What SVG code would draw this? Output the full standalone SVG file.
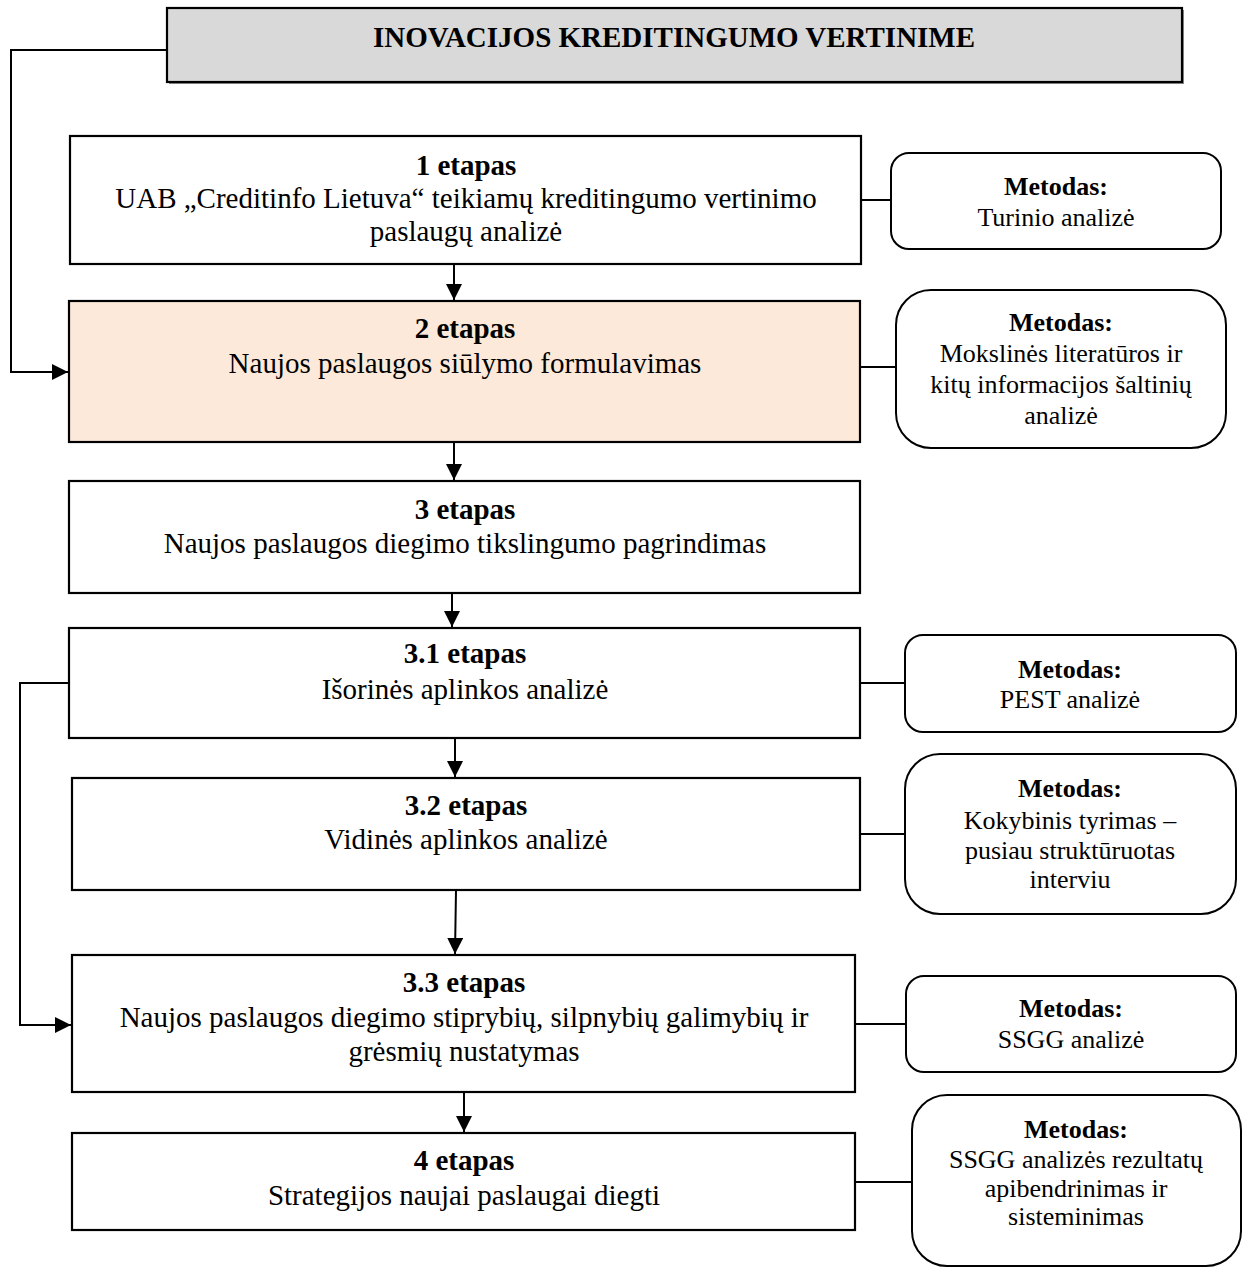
<svg xmlns="http://www.w3.org/2000/svg" width="1243" height="1267" viewBox="0 0 1243 1267">
<defs>
<marker id="arr" markerUnits="userSpaceOnUse" markerWidth="17" markerHeight="16" refX="16" refY="8" orient="auto">
<path d="M0,0 L16,8 L0,16 Z" fill="#000"/>
</marker>
<style>
.box{fill:#fff;stroke:#000;stroke-width:2.2}
.peach{fill:#fde9d9}
.meth{fill:#fff;stroke:#000;stroke-width:2}
.ln{fill:none;stroke:#000;stroke-width:2}
.t{font-family:"Liberation Serif","Times New Roman",serif;font-size:29px;text-anchor:middle;fill:#000}
.m{font-family:"Liberation Serif","Times New Roman",serif;font-size:26px;text-anchor:middle;fill:#000}
.b{font-weight:bold}
</style>
</defs>
<rect width="1243" height="1267" fill="#fff"/>

<g id="title">
<rect x="169" y="10" width="1015" height="74" fill="#8c8c8c"/>
<rect x="167" y="8" width="1015" height="74" fill="#d9d9d9" stroke="#000" stroke-width="2.2"/>
<text class="t b" x="674" y="47">INOVACIJOS KREDITINGUMO VERTINIME</text>
</g>

<g id="connectors">
<polyline class="ln" points="166,50 11,50 11,372 68,372" marker-end="url(#arr)"/>
<polyline class="ln" points="69,683 20,683 20,1025 71,1025" marker-end="url(#arr)"/>
<line class="ln" x1="454" y1="264" x2="454" y2="300" marker-end="url(#arr)"/>
<line class="ln" x1="454" y1="442" x2="454" y2="480" marker-end="url(#arr)"/>
<line class="ln" x1="452" y1="593" x2="452" y2="627" marker-end="url(#arr)"/>
<line class="ln" x1="455" y1="738" x2="455" y2="777" marker-end="url(#arr)"/>
<line class="ln" x1="456" y1="890" x2="455" y2="954" marker-end="url(#arr)"/>
<line class="ln" x1="464" y1="1092" x2="464" y2="1132" marker-end="url(#arr)"/>
<line class="ln" x1="861" y1="200" x2="891" y2="200"/>
<line class="ln" x1="860" y1="367" x2="896" y2="367"/>
<line class="ln" x1="860" y1="683" x2="905" y2="683"/>
<line class="ln" x1="860" y1="834" x2="905" y2="834"/>
<line class="ln" x1="855" y1="1024" x2="906" y2="1024"/>
<line class="ln" x1="855" y1="1182" x2="912" y2="1182"/>
</g>

<g id="stage1">
<rect class="box" x="70" y="136" width="791" height="128"/>
<text class="t b" x="466" y="175">1 etapas</text>
<text class="t" x="466" y="208">UAB „Creditinfo Lietuva“ teikiamų kreditingumo vertinimo</text>
<text class="t" x="466" y="241">paslaugų analizė</text>
</g>
<g id="method1">
<rect class="meth" x="891" y="153" width="330" height="96" rx="18"/>
<text class="m b" x="1056" y="195">Metodas:</text>
<text class="m" x="1056" y="226">Turinio analizė</text>
</g>

<g id="stage2">
<rect class="box peach" x="69" y="301" width="791" height="141"/>
<text class="t b" x="465" y="338">2 etapas</text>
<text class="t" x="465" y="373">Naujos paslaugos siūlymo formulavimas</text>
</g>
<g id="method2">
<rect class="meth" x="896" y="290" width="330" height="158" rx="35"/>
<text class="m b" x="1061" y="331">Metodas:</text>
<text class="m" x="1061" y="362">Mokslinės literatūros ir</text>
<text class="m" x="1061" y="393">kitų informacijos šaltinių</text>
<text class="m" x="1061" y="424">analizė</text>
</g>

<g id="stage3">
<rect class="box" x="69" y="481" width="791" height="112"/>
<text class="t b" x="465" y="519">3 etapas</text>
<text class="t" x="465" y="553">Naujos paslaugos diegimo tikslingumo pagrindimas</text>
</g>

<g id="stage3_1">
<rect class="box" x="69" y="628" width="791" height="110"/>
<text class="t b" x="465" y="663">3.1 etapas</text>
<text class="t" x="465" y="699">Išorinės aplinkos analizė</text>
</g>
<g id="method3_1">
<rect class="meth" x="905" y="635" width="331" height="97" rx="18"/>
<text class="m b" x="1070" y="678">Metodas:</text>
<text class="m" x="1070" y="708">PEST analizė</text>
</g>

<g id="stage3_2">
<rect class="box" x="72" y="778" width="788" height="112"/>
<text class="t b" x="466" y="815">3.2 etapas</text>
<text class="t" x="466" y="849">Vidinės aplinkos analizė</text>
</g>
<g id="method3_2">
<rect class="meth" x="905" y="754" width="331" height="160" rx="35"/>
<text class="m b" x="1070" y="797">Metodas:</text>
<text class="m" x="1070" y="829">Kokybinis tyrimas –</text>
<text class="m" x="1070" y="859">pusiau struktūruotas</text>
<text class="m" x="1070" y="888">interviu</text>
</g>

<g id="stage3_3">
<rect class="box" x="72" y="955" width="783" height="137"/>
<text class="t b" x="464" y="992">3.3 etapas</text>
<text class="t" x="464" y="1027">Naujos paslaugos diegimo stiprybių, silpnybių galimybių ir</text>
<text class="t" x="464" y="1061">grėsmių nustatymas</text>
</g>
<g id="method3_3">
<rect class="meth" x="906" y="976" width="330" height="96" rx="18"/>
<text class="m b" x="1071" y="1017">Metodas:</text>
<text class="m" x="1071" y="1048">SSGG analizė</text>
</g>

<g id="stage4">
<rect class="box" x="72" y="1133" width="783" height="97"/>
<text class="t b" x="464" y="1170">4 etapas</text>
<text class="t" x="464" y="1205">Strategijos naujai paslaugai diegti</text>
</g>
<g id="method4">
<rect class="meth" x="912" y="1095" width="329" height="171" rx="35"/>
<text class="m b" x="1076" y="1138">Metodas:</text>
<text class="m" x="1076" y="1168">SSGG analizės rezultatų</text>
<text class="m" x="1076" y="1197">apibendrinimas ir</text>
<text class="m" x="1076" y="1225">sisteminimas</text>
</g>
</svg>
